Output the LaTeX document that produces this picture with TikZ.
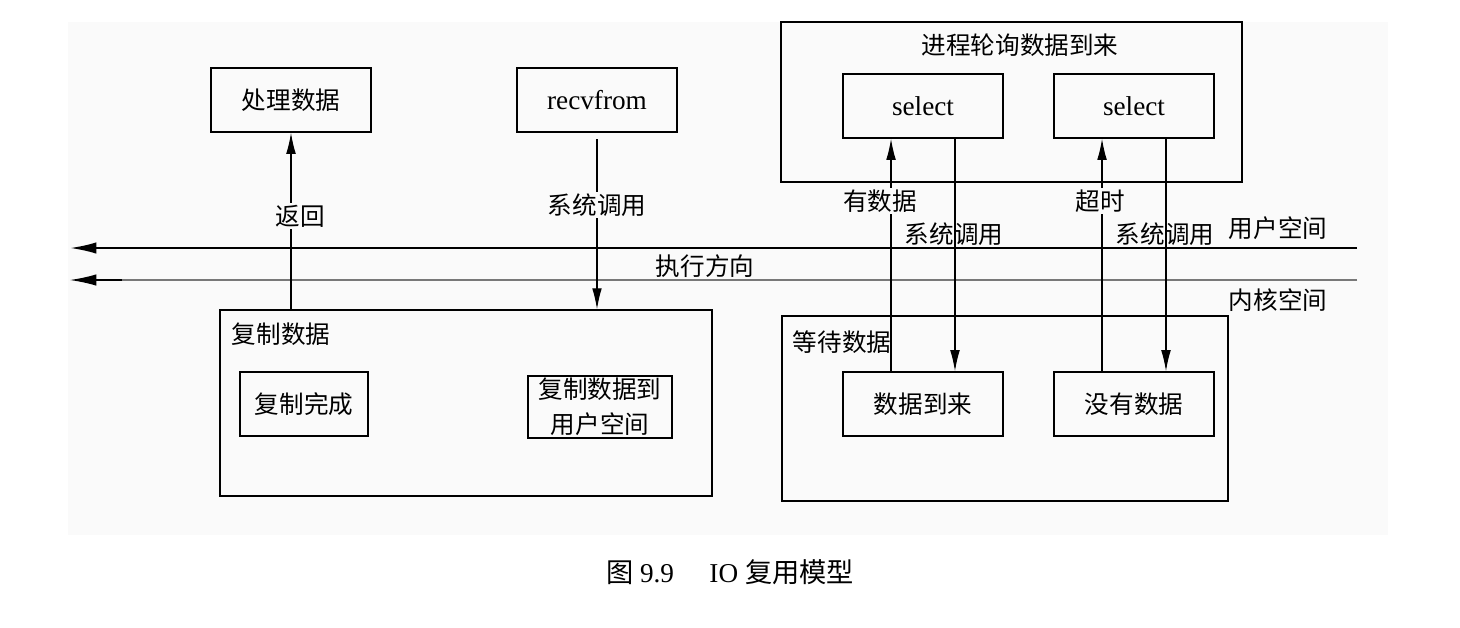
\documentclass[tikz,border=0pt]{standalone}
\usepackage{fontspec}
\setmainfont{Liberation Serif}
\newfontfamily\cjk{Noto Sans CJK SC}
\usetikzlibrary{arrows.meta}
\definecolor{bgray}{RGB}{250,250,250}
\definecolor{lgray}{RGB}{120,120,120}
\newcommand\px{0.569pt}

\begin{document}
\begin{tikzpicture}[x=0.02cm,y=-0.02cm,
    box/.style={draw,line width=0.8pt,inner sep=0pt,font=\fontsize{15.5}{18}\selectfont},
    cbox/.style={box,font=\cjk\fontsize{14}{18}\selectfont},
    sbox/.style={minimum width=160*\px,minimum height=64*\px},
    lbl/.style={inner sep=1pt,font=\cjk\fontsize{14}{17}\selectfont},
    arr/.style={-{Latex[length=12pt,width=5.5pt]},line width=0.7pt},
    harr/.style={-{Latex[length=15pt,width=6.5pt]},line width=0.7pt}]
    \useasboundingbox (0,0) rectangle (1460,627);
    \fill[bgray] (68,22) rectangle (1388,535);

    \node[cbox,sbox] (proc) at (291,100) {处理数据};
    \node[box,sbox] (recv) at (597,100) {recvfrom};
    \node[box,minimum width=461*\px,minimum height=160*\px] (poll) at (1011.5,102) {};
    \node[lbl] (pollt) at (1020,45) {进程轮询数据到来};
    \node[box,sbox] (sel1) at (923,106) {select};
    \node[box,sbox] (sel2) at (1134,106) {select};

    \node[box,minimum width=492*\px,minimum height=186*\px] (copy) at (466,403) {};
    \node[lbl] (copyt) at (281,334) {复制数据};
    \node[cbox,minimum width=128*\px,minimum height=64*\px] (done) at (304,404) {复制完成};
    \node[cbox,font=\cjk\fontsize{14}{20}\selectfont,minimum width=144*\px,minimum height=62*\px,align=center] (tocopy) at (600,407) {复制数据到\\用户空间};

    \node[box,minimum width=446*\px,minimum height=185*\px] (wait) at (1005,408.5) {};
    \node[lbl] (waitt) at (842,342) {等待数据};
    \node[cbox,sbox] (arrive) at (923,404) {数据到来};
    \node[cbox,sbox] (nodata) at (1134,404) {没有数据};

    \coordinate (ur) at (1357,248);
    \coordinate (ul) at (70,248);
    \coordinate (kr) at (1357,280);
    \coordinate (km) at (122,280);
    \coordinate (kl) at (70,280);
    \draw[harr,line width=1.2pt] (ur) -- (ul);
    \draw[lgray,line width=0.6pt] (kr) -- (km);
    \draw[harr] (km) -- (kl);
    \node[lbl] (dir) at (705,266) {执行方向};
    \node[lbl] (user) at (1278,228) {用户空间};
    \node[lbl] (kern) at (1278,300) {内核空间};

    \coordinate (rs) at (597,139);
    \draw[arr] (copy.north -| proc) -- (proc.south);
    \draw[arr] (rs) -- (rs |- copy.north);
    \draw[arr] ([xshift=-18.2pt]arrive.north) -- ([xshift=-18.2pt]sel1.south);
    \draw[arr] ([xshift=18.2pt]sel1.south) -- ([xshift=18.2pt]arrive.north);
    \draw[arr] ([xshift=-18.2pt]nodata.north) -- ([xshift=-18.2pt]sel2.south);
    \draw[arr] ([xshift=18.2pt]sel2.south) -- ([xshift=18.2pt]nodata.north);

    \node[lbl,fill=bgray] (ret) at (300,216) {返回};
    \node[lbl,fill=bgray] (call) at (597,205) {系统调用};
    \node[lbl,fill=bgray] (has) at (880,201) {有数据};
    \node[lbl] (call1) at (954,234) {系统调用};
    \node[lbl,fill=bgray] (tout) at (1100,201) {超时};
    \node[lbl] (call2) at (1165,234) {系统调用};

    \node[font=\fontsize{15.5}{18}\selectfont] (cap) at (730,572) {{\cjk 图} 9.9\hspace{1.3em}IO {\cjk 复用模型}};
\end{tikzpicture}
\end{document}
